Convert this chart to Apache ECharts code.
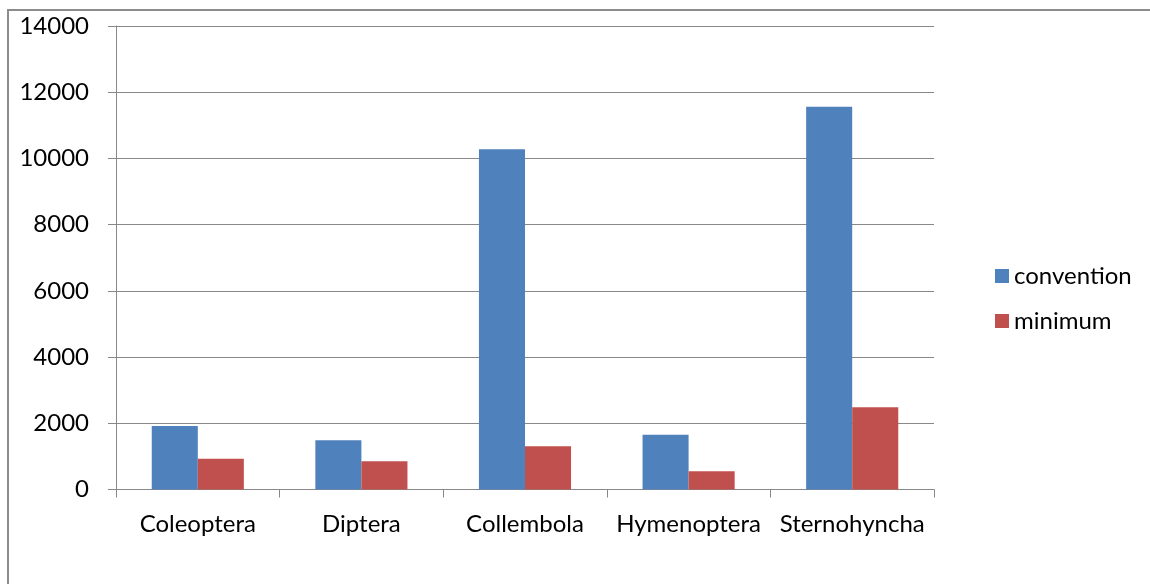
<!DOCTYPE html>
<html>
<head>
<meta charset="utf-8">
<script src="https://cdn.jsdelivr.net/npm/echarts@6/dist/echarts.min.js"></script>
<style>
  html, body { margin: 0; padding: 0; background: #fff; }
  #chart { width: 1150px; height: 584px; }
</style>
</head>
<body>
<div id="chart"></div>
<script>
const categories = ["Coleoptera", "Diptera", "Collembola", "Hymenoptera", "Sternohyncha"];
const convention = [1920, 1485, 10275, 1655, 11560];
const minimum = [930, 850, 1305, 555, 2485];
const yTicks = [0, 2000, 4000, 6000, 8000, 10000, 12000, 14000];

const font = "Lato, 'Open Sans', sans-serif";
const chart = echarts.init(document.getElementById("chart"));

chart.setOption({
  animation: false,
  textStyle: { fontFamily: font },
  graphic: [{
    type: "rect",
    shape: { x: 8, y: 10, width: 1300, height: 700 },
    style: { fill: "none", stroke: "#8c8c8c", lineWidth: 2 },
    silent: true
  }],
  grid: { left: 116, right: 216, top: 26, bottom: 94.5 },
  legend: {
    orient: "vertical",
    left: 990,
    top: 259,
    itemWidth: 14,
    itemHeight: 14,
    itemGap: 21,
    icon: "rect",
    textStyle: { fontFamily: font, fontSize: 24, color: "#000" },
    data: ["convention", "minimum"]
  },
  xAxis: {
    type: "category",
    data: categories,
    axisLine: { lineStyle: { color: "#888", width: 1 } },
    axisTick: { show: true, length: 8, lineStyle: { color: "#888" } },
    axisLabel: { color: "#000", fontSize: 24, fontFamily: font, margin: 23, interval: 0 }
  },
  yAxis: {
    type: "value",
    min: yTicks[0],
    max: yTicks[yTicks.length - 1],
    interval: 2000,
    axisLine: { show: true, lineStyle: { color: "#888", width: 1 } },
    axisTick: { show: true, length: 8, lineStyle: { color: "#888" } },
    splitLine: { lineStyle: { color: "#888", width: 1 } },
    axisLabel: {
      color: "#000", fontSize: 24, fontFamily: font, margin: 27,
      formatter: (v) => String(v)
    }
  },
  series: [
    {
      name: "convention",
      type: "bar",
      data: convention,
      barGap: "0%",
      barCategoryGap: "43.7%",
      itemStyle: { color: "#4F81BD" }
    },
    {
      name: "minimum",
      type: "bar",
      data: minimum,
      barGap: "0%",
      barCategoryGap: "43.7%",
      itemStyle: { color: "#C0504D" }
    }
  ]
});
</script>
</body>
</html>
